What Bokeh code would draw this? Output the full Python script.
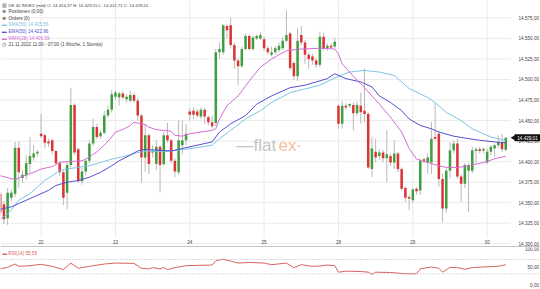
import numpy as np
from bokeh.plotting import figure
from bokeh.layouts import column
from bokeh.models import Span, Label, ColumnDataSource, Range1d
from bokeh.embed import file_html
from bokeh.resources import INLINE
from bokeh.core.properties import value

# ---------------- data ----------------
candle_index = list(range(-1, 136))
open_ = [14361, 14348, 14331, 14356, 14361, 14417, 14380, 14383, 14397, 14405, 14410,
         14434, 14432, 14424, 14426, 14413, 14398, 14387, 14362, 14396, 14469, 14415,
         14376, 14388, 14401, 14422, 14442, 14431, 14435, 14456, 14463, 14479, 14478,
         14483, 14476, 14474, 14481, 14474, 14456, 14405, 14432, 14411, 14397, 14418,
         14397, 14432, 14426, 14401, 14387, 14420, 14426, 14461, 14462, 14461, 14455,
         14463, 14454, 14448, 14447, 14533, 14533, 14565, 14566, 14542, 14523, 14516,
         14537, 14553, 14537, 14550, 14550, 14549, 14538, 14530, 14533, 14536, 14538,
         14547, 14556, 14520, 14504, 14554, 14545, 14530, 14528, 14523, 14518, 14552,
         14538, 14541, 14540, 14468, 14446, 14468, 14468, 14469, 14459, 14468, 14462,
         14458, 14391, 14412, 14407, 14411, 14404, 14407, 14399, 14410, 14391, 14368,
         14357, 14353, 14367, 14365, 14403, 14399, 14399, 14430, 14434, 14379, 14343,
         14389, 14414, 14422, 14382, 14373, 14389, 14389, 14413, 14415, 14414, 14399,
         14412, 14416, 14420, 14423, 14414.37]
high = [14363, 14352, 14368, 14366, 14424, 14425, 14390, 14408, 14430, 14420, 14414,
        14458, 14434, 14428, 14428, 14414, 14401, 14389, 14400, 14490, 14471, 14417,
        14392, 14404, 14426, 14452, 14446, 14438, 14462, 14468, 14487, 14487, 14485,
        14486, 14482, 14486, 14484, 14477, 14458, 14446, 14434, 14420, 14426, 14420,
        14436, 14447, 14428, 14404, 14450, 14450, 14446, 14465, 14466, 14464, 14466,
        14465, 14456, 14456, 14537, 14545, 14567, 14567, 14575, 14545, 14526, 14540,
        14556, 14555, 14553, 14555, 14558, 14552, 14541, 14540, 14541, 14545, 14552,
        14584, 14558, 14522, 14562, 14565, 14548, 14533, 14531, 14526, 14558, 14557,
        14544, 14544, 14551, 14470, 14474, 14471, 14471, 14472, 14473, 14484, 14513,
        14460, 14430, 14428, 14415, 14414, 14438, 14410, 14426, 14412, 14393, 14370,
        14360, 14368, 14369, 14404, 14405, 14410, 14448, 14471, 14438, 14385, 14392,
        14424, 14426, 14428, 14385, 14398, 14398, 14418, 14418, 14418, 14417, 14416,
        14420, 14422, 14432, 14434, 14429.55]
low = [14334, 14324, 14323, 14352, 14357, 14368, 14374, 14378, 14387, 14401, 14406,
       14429, 14416, 14418, 14409, 14396, 14383, 14347, 14342, 14393, 14408, 14374,
       14372, 14384, 14398, 14419, 14427, 14428, 14433, 14454, 14460, 14475, 14468,
       14476, 14472, 14472, 14472, 14450, 14374, 14388, 14385, 14405, 14390, 14363,
       14395, 14423, 14398, 14381, 14384, 14409, 14420, 14450, 14452, 14453, 14452,
       14446, 14444, 14440, 14443, 14525, 14530, 14550, 14538, 14513, 14493, 14514,
       14535, 14535, 14535, 14548, 14548, 14535, 14530, 14528, 14530, 14533, 14536,
       14545, 14511, 14499, 14498, 14542, 14519, 14513, 14518, 14514, 14515, 14535,
       14535, 14537, 14538, 14440, 14440, 14463, 14465, 14438, 14456, 14446, 14448,
       14391, 14381, 14399, 14402, 14399, 14375, 14395, 14391, 14387, 14365, 14351,
       14341, 14350, 14360, 14359, 14398, 14385, 14385, 14426, 14369, 14326, 14338,
       14380, 14410, 14379, 14351, 14368, 14339, 14386, 14398, 14410, 14410, 14397,
       14408, 14405, 14416, 14412, 14412.71]
close = [14338, 14330, 14362, 14362, 14417, 14387, 14384, 14398, 14407, 14410, 14412,
         14431, 14423, 14423, 14413, 14398, 14387, 14356, 14396, 14469, 14411, 14376,
         14388, 14401, 14422, 14442, 14430, 14435, 14456, 14463, 14482, 14484, 14483,
         14478, 14479, 14481, 14474, 14456, 14405, 14432, 14397, 14413, 14418, 14396,
         14432, 14426, 14401, 14388, 14426, 14426, 14434, 14457, 14457, 14456, 14463,
         14455, 14448, 14443, 14533, 14537, 14566, 14560, 14542, 14523, 14516, 14537,
         14553, 14537, 14551, 14553, 14554, 14538, 14533, 14533, 14538, 14541, 14547,
         14554, 14514, 14504, 14547, 14545, 14530, 14525, 14523, 14518, 14552, 14537,
         14541, 14539, 14546, 14446, 14468, 14466, 14470, 14459, 14469, 14460, 14458,
         14393, 14416, 14405, 14411, 14404, 14409, 14399, 14410, 14391, 14367, 14356,
         14355, 14366, 14364, 14401, 14401, 14405, 14428, 14428, 14379, 14343, 14389,
         14414, 14422, 14382, 14373, 14396, 14396, 14414, 14415, 14413, 14415, 14412,
         14418, 14420, 14424, 14415, 14429.01]

sma_x = [-1, 1, 3, 4, 7, 9, 11, 13, 15, 17, 20, 23, 26, 29, 32, 36, 39, 43, 47, 52,
         56, 58, 61, 65, 69, 72, 77, 85, 90, 93, 97, 101, 105, 109, 114, 116, 119,
         123, 126, 131, 135]
sma_y = [14330, 14336, 14347, 14353, 14361, 14369, 14377, 14383, 14389, 14391, 14393,
         14395, 14399, 14403, 14406, 14411, 14413, 14412, 14414, 14417, 14420, 14428,
         14438, 14452, 14462, 14472, 14484, 14493, 14504, 14509, 14511, 14509, 14505,
         14489, 14478, 14472, 14460, 14450, 14440, 14430, 14425.56]

ema_x = [-1, 2, 4, 8, 12, 14, 17, 20, 23, 26, 29, 31, 34, 36, 38, 41, 45, 47, 51, 56,
         58, 61, 65, 68, 72, 74, 77, 81, 84, 87, 89, 92, 96, 99, 101, 104, 107, 109,
         112, 115, 117, 121, 125, 128, 132, 135]
ema_y = [14342, 14345, 14349, 14357, 14365, 14371, 14375, 14377, 14381, 14387, 14395,
         14401, 14408, 14413, 14415, 14414, 14413, 14415, 14419, 14424, 14436, 14446,
         14456, 14470, 14480, 14484, 14490, 14493, 14497, 14501, 14507, 14501, 14497,
         14491, 14480, 14472, 14462, 14452, 14444, 14440, 14436, 14431, 14428, 14426,
         14424, 14422.96]

wma_x = [-1, 3, 6, 8, 10, 13, 15, 17, 21, 22, 24, 25, 27, 29, 30, 32, 34, 35, 38, 39,
         41, 43, 45, 46, 48, 50, 53, 56, 57, 58, 60, 63, 66, 69, 72, 76, 80, 85, 89,
         90, 91, 93, 95, 97, 101, 104, 107, 109, 111, 114, 117, 119, 122, 124, 127,
         130, 132, 135]
wma_y = [14383, 14378, 14384, 14387, 14391, 14394, 14399, 14400, 14401, 14403, 14409,
         14412, 14420, 14430, 14436, 14439, 14444, 14448, 14445, 14442, 14439, 14438,
         14437, 14432, 14431, 14434, 14436, 14438, 14440, 14452, 14468, 14480, 14498,
         14515, 14525, 14535, 14537, 14538, 14537, 14531, 14519, 14509, 14499, 14490,
         14470, 14454, 14436, 14416, 14403, 14399, 14395, 14393, 14393, 14394, 14397,
         14400, 14403.5, 14406.59]

rsi_x = [-1, 1, 3, 4, 7, 10, 13, 16, 18, 20, 23, 27, 30, 35, 37, 39, 40, 42, 43, 44,
         46, 49, 52, 56, 57, 59, 61, 63, 66, 70, 72, 76, 78, 80, 83, 85, 87, 89, 90,
         92, 96, 98, 99, 100, 104, 108, 111, 112, 115, 117, 118, 120, 122, 124, 126,
         129, 133, 135]
rsi_y = [43.6, 48.2, 57.3, 50.9, 52.7, 56.4, 50.9, 41.8, 60.0, 45.5, 50.9, 57.3, 60.0,
         59.1, 45.5, 43.6, 47.3, 43.6, 47.3, 41.8, 47.3, 52.7, 53.6, 54.5, 66.4, 70.9,
         65.5, 60.0, 61.8, 60.0, 55.5, 60.0, 47.3, 55.5, 50.9, 51.8, 54.5, 52.7, 34.5,
         37.3, 36.4, 34.5, 28.2, 34.5, 33.6, 30.0, 30.0, 43.6, 49.1, 45.5, 34.5, 48.2,
         47.3, 42.7, 47.3, 49.1, 50.9, 55.55]

day_ticks = [10, 30, 50, 70, 90, 110, 130]
day_labels = ["22", "23", "24", "25", "28", "29", "30"]
price_ticks = [14300, 14325, 14350, 14375, 14400, 14425, 14450, 14475, 14500,
               14525, 14550, 14575]
rsi_ticks = [0, 50, 100]
rsi_levels = [70, 30]
last_price = close[-1]

header_lines = [
    "DE 40 INDEX (mid) O: 14.414,37 H: 14.429,55 L: 14.412,71 C: 14.429,01",
    "Positionen (0,00)",
    "Orders (0)",
    "SMA(50)  14.425,56",
    "EMA(50)  14.422,96",
    "WMA(28)  14.406,59",
    "21.11.2022 11:00 - 07:00  (1 Woche, 1 Stunde)",
]
rsi_label = "RSI(14)  55,55"


def de_fmt(v):
    s = f"{v:,.2f}"
    return s.replace(",", "X").replace(".", ",").replace("X", ".")


# ---------------- styling / geometry ----------------
FONT = "Liberation Sans"
GREEN = "#3f9e3f"
RED = "#dc3434"
SMA_C = "#7ec3e4"
EMA_C = "#574fd0"
WMA_C = "#d66bd6"
GRID_C = "#ebebeb"
TXT_C = "#444444"
FS = "4.6px"

W = 540
X0 = -0.92                 # index at left edge
UNIT = 510 / 137.2         # px per candle
def xpx(px):               # pixel column -> index coordinate
    return X0 + px / UNIT

x_rng = Range1d(X0, xpx(W))
grid_end = xpx(510)
label_x = xpx(538.5)

o = np.array(open_, dtype=float)
c = np.array(close, dtype=float)
top = np.maximum(o, c)
bot = np.minimum(o, c)
thin = (top - bot) < 1.2
top = np.where(thin, top + 0.6, top)
bot = np.where(thin, bot - 0.6, bot)
colors = [GREEN if cc >= oo else RED for oo, cc in zip(o, c)]
src = ColumnDataSource(dict(x=candle_index, h=high, l=low, top=top, bot=bot, color=colors))

p = figure(frame_width=W, frame_height=247, x_range=x_rng,
           y_range=Range1d(14295.5, 14596.1), output_backend="svg",
           toolbar_location=None, x_axis_location=None, y_axis_location=None,
           min_border=0, outline_line_color=None, background_fill_color="white",
           border_fill_color="white")
p.grid.visible = False

# grid lines
p.segment(x0=[X0] * len(price_ticks), x1=[grid_end] * len(price_ticks),
          y0=price_ticks, y1=price_ticks, line_color=GRID_C, line_width=1)
p.segment(x0=day_ticks, x1=day_ticks, y0=[14307] * len(day_ticks),
          y1=[14596.1] * len(day_ticks), line_color=GRID_C, line_width=1)

# candles
p.segment(x0="x", y0="l", x1="x", y1="h", source=src, line_color="#b9b9b9", line_width=1)
p.vbar(x="x", width=0.68, top="top", bottom="bot", fill_color="color", line_color=None, source=src)

# indicator lines
p.line(sma_x, sma_y, line_color=SMA_C, line_width=1)
p.line(ema_x, ema_y, line_color=EMA_C, line_width=1)
p.line(wma_x, wma_y, line_color=WMA_C, line_width=1)

# price scale (right)
p.text(x=[label_x] * len(price_ticks), y=price_ticks, text=[de_fmt(t) for t in price_ticks],
       text_font_size=FS, text_align="right", text_baseline="middle", text_color=TXT_C,
       text_font=value(FONT))
# day labels
p.text(x=day_ticks, y=[14301.6] * len(day_ticks), text=day_labels, text_font_size=FS,
       text_align="center", text_baseline="middle", text_color=TXT_C, text_font=value(FONT))

# last price tag
p.rect(x=[xpx(527)], y=[last_price], width=26, height=7, width_units="screen",
       height_units="screen", fill_color="#111111", line_color=None)
p.scatter(x=[xpx(513)], y=[last_price], marker="triangle", angle=np.pi / 2, size=5,
          fill_color="#111111", line_color=None)
p.text(x=[xpx(527)], y=[last_price], text=[de_fmt(last_price)], text_font_size=FS,
       text_align="center", text_baseline="middle", text_color="white",
       text_font=value(FONT))

p.add_layout(Span(location=14296.2, dimension="width", line_color="#9c9c9c", line_width=1))

# watermark
p.add_layout(Label(x=236, y=102, x_units="screen", y_units="screen", text="\u2014flat",
                   text_font=FONT, text_font_size="17px", text_color="#c4c4c4",
                   text_baseline="middle"))
p.add_layout(Label(x=278, y=102, x_units="screen", y_units="screen", text="ex",
                   text_font=FONT, text_font_size="17px", text_color="#f5c09c",
                   text_baseline="middle"))
p.add_layout(Label(x=297, y=102, x_units="screen", y_units="screen", text="\u2022",
                   text_font=FONT, text_font_size="8px", text_color="#f5c09c",
                   text_baseline="middle"))

# header legend
ys = [242.5, 236.0, 229.5, 222.7, 216.0, 209.3, 202.7]
icons = ["\u25a5", "\u2295", "\u2295", "\u25ac", "\u25ac", "\u25ac", "\u25f7"]
cols = [TXT_C, TXT_C, TXT_C, SMA_C, EMA_C, WMA_C, TXT_C]
sizes = ["4.3px", FS, FS, FS, FS, FS, FS]
for yy, ic, txt, col, fs in zip(ys, icons, header_lines, cols, sizes):
    p.add_layout(Label(x=1.5, y=yy, x_units="screen", y_units="screen", text=ic,
                       text_font=FONT, text_font_size=FS, text_color=col,
                       text_baseline="middle"))
    p.add_layout(Label(x=8, y=yy, x_units="screen", y_units="screen", text=txt,
                       text_font=FONT, text_font_size=fs, text_color=col,
                       text_baseline="middle"))

# ---------------- RSI panel ----------------
p2 = figure(frame_width=W, frame_height=42, x_range=x_rng, y_range=Range1d(-14, 103.6),
            output_backend="svg", toolbar_location=None, x_axis_location=None,
            y_axis_location=None, min_border=0, outline_line_color=None,
            background_fill_color="white", border_fill_color="white")
p2.grid.visible = False
for lv in rsi_levels:
    p2.add_layout(Span(location=lv, dimension="width", line_color="#b4b4b4",
                       line_width=1, line_dash="1 2"))
p2.line(rsi_x, rsi_y, line_color="#d8645f", line_width=1)
p2.text(x=[label_x] * len(rsi_ticks), y=rsi_ticks, text=[de_fmt(t) for t in rsi_ticks],
        text_font_size=FS, text_align="right", text_baseline="middle", text_color=TXT_C,
        text_font=value(FONT))
p2.add_layout(Label(x=2, y=36.5, x_units="screen", y_units="screen",
                    text="\u25ac " + rsi_label, text_font=FONT, text_font_size=FS,
                    text_color="#d8645f", text_baseline="middle"))

layout = column(p, p2, spacing=0)
open("out.html", "w").write(file_html(layout, INLINE))
